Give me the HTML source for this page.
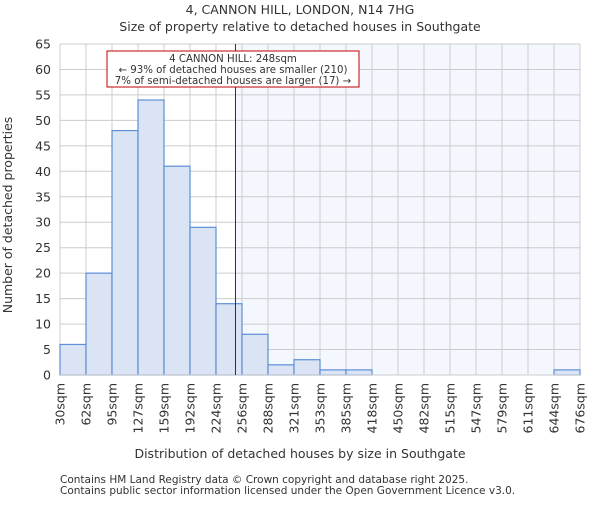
<!DOCTYPE html>
<html><head><meta charset="utf-8"><style>
body{margin:0;background:#fff;font-family:"Liberation Sans","DejaVu Sans",sans-serif}
svg text{font-family:"DejaVu Sans","Liberation Sans",sans-serif;fill:#333}
</style></head><body>
<svg id="c" width="600" height="500">
<text x="300" y="14" text-anchor="middle" font-size="12.5">4, CANNON HILL, LONDON, N14 7HG</text>
<text x="300" y="31" text-anchor="middle" font-size="12.5">Size of property relative to detached houses in Southgate</text>
<g id="grid"></g><g id="bars"></g><g id="axes"></g>
<text x="0" y="0" transform="translate(12,215) rotate(-90)" text-anchor="middle" font-size="12.5">Number of detached properties</text>
<text x="300" y="458" text-anchor="middle" font-size="12.5">Distribution of detached houses by size in Southgate</text>
<text x="60" y="483" font-size="10.5" fill="#555">Contains HM Land Registry data © Crown copyright and database right 2025.</text>
<text x="60" y="494" font-size="10.5" fill="#555">Contains public sector information licensed under the Open Government Licence v3.0.</text>
</svg>
<script>
const binLabels=["30sqm","62sqm","95sqm","127sqm","159sqm","192sqm","224sqm","256sqm","288sqm","321sqm","353sqm","385sqm","418sqm","450sqm","482sqm","515sqm","547sqm","579sqm","611sqm","644sqm","676sqm"];
const counts=[6,20,48,54,41,29,14,8,2,3,1,1,0,0,0,0,0,0,0,1];
const yTicks=[0,5,10,15,20,25,30,35,40,45,50,55,60,65];
const propertySize=248;
const xMin=30,xMax=676;
const L=60,R=580,T=44,B=375;
const NS="http://www.w3.org/2000/svg";
const bw=(R-L)/counts.length;
const y=v=>B-(v/65)*(B-T);
const xs=v=>L+(v-xMin)/(xMax-xMin)*(R-L);
function mk(tag,attrs,parent){const e=document.createElementNS(NS,tag);for(const k in attrs)e.setAttribute(k,attrs[k]);parent.appendChild(e);return e;}
const grid=document.getElementById('grid'),bars=document.getElementById('bars'),axes=document.getElementById('axes');
const px=xs(propertySize);
let r=mk('rect',{x:px,y:T,width:R-px,height:B-T,fill:'#f4f7fe'},grid);


yTicks.forEach(t=>{
 let l=mk('line',{x1:L,x2:R,y1:y(t),y2:y(t),stroke:'#ccc'},grid);
 
 
 let tx=mk('text',{x:L-9,y:y(t)+4.5,'text-anchor':'end','font-size':12.5},axes);tx.textContent=t;
 
 
});
binLabels.forEach((lb,i)=>{
 const x=L+i*bw;
 let l=mk('line',{x1:x,x2:x,y1:T,y2:B,stroke:'#ccc'},grid);
 
 
 let tx=mk('text',{x:0,y:0,'text-anchor':'end','font-size':12.5,transform:`translate(${x+4.5},${B+8}) rotate(-90)`},axes);tx.textContent=lb;
 
 
});
counts.forEach((c,i)=>{
 if(c<=0)return;
 let b=mk('rect',{x:L+i*bw,y:y(c),width:bw,height:B-y(c),fill:'#dae4f4',stroke:'#5b8fd6','stroke-width':1.2},bars);
 
 
});
let bl=mk('line',{x1:L,x2:R,y1:B,y2:B,stroke:'#ccc'},axes);


let ml=mk('line',{x1:px,x2:px,y1:T,y2:B,stroke:'#990000','stroke-width':1},axes);


let g=mk('g',{},axes);


mk('rect',{x:107,y:51,width:252,height:36,fill:'#fff',stroke:'#c00000','stroke-width':1},g);
[["4 CANNON HILL: 248sqm",62],["← 93% of detached houses are smaller (210)",73],["7% of semi-detached houses are larger (17) →",84]].forEach(([t,yy])=>{
 let tx=mk('text',{x:233,y:yy,'text-anchor':'middle','font-size':10.2},g);tx.textContent=t;
});
</script>
</body></html>
